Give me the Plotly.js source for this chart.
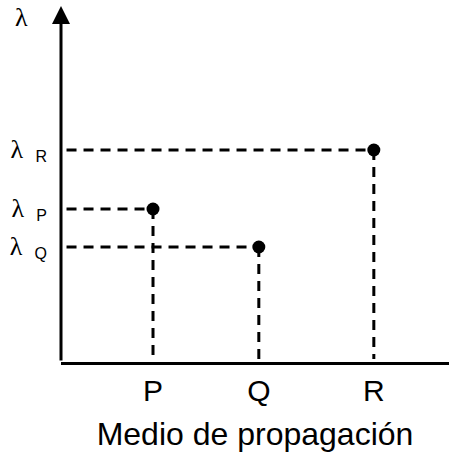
<!DOCTYPE html>
<html><head><meta charset="utf-8">
<script src="https://cdn.plot.ly/plotly-3.0.1.min.js"></script>
<style>body{margin:0;background:#fff}#c{width:449px;height:452px}</style>
</head><body><div id="c"></div>
<script>
const media = ["P", "Q", "R"];
const mediumPos = [1.0, 2.15, 3.40];
const lambdaVals = [1.53, 1.15, 2.12];
const lambdaSubs = ["P", "Q", "R"];
const xTitle = "Medio de propagación";
const yTitle = "λ";

const serif = "Liberation Serif, DejaVu Serif, serif";
const lambdaLabels = lambdaSubs.map(s => "<span style=\"font-family:" + serif + ";font-size:26px\">λ</span>&nbsp;&nbsp;<sub><span style=\"font-size:16px\">" + s + "</span></sub>");
const dashStyle = {color: "#000", width: 3, dash: "10px,7px"};
const traces = [];
for (let i = 0; i < media.length; i++) {
  traces.push({x: [0.06, mediumPos[i]], y: [lambdaVals[i], lambdaVals[i]], mode: "lines", line: dashStyle, hoverinfo: "skip"});
  traces.push({x: [mediumPos[i], mediumPos[i]], y: [lambdaVals[i], 0.03], mode: "lines", line: dashStyle, hoverinfo: "skip"});
}
traces.push({x: mediumPos, y: lambdaVals, mode: "markers", marker: {color: "#000", size: 13}, hoverinfo: "skip"});

const fam = "Liberation Sans, Arial, sans-serif";
const layout = {
  width: 449, height: 452,
  margin: {l: 61, r: 0, t: 0, b: 90},
  showlegend: false,
  paper_bgcolor: "#fff", plot_bgcolor: "#fff",
  xaxis: {range: [0, 4.217], showgrid: false, zeroline: false, showline: true, linewidth: 3, linecolor: "#000",
    tickvals: mediumPos, ticktext: media, ticks: "", tickfont: {family: fam, size: 30, color: "#000"}, ticklabelstandoff: 0,
    title: {text: xTitle, font: {family: fam, size: 32, color: "#000"}, standoff: 18}},
  yaxis: {range: [0, 3.62], showgrid: false, zeroline: false, showline: false,
    tickvals: lambdaVals, ticktext: lambdaLabels, ticks: "", tickfont: {family: fam, size: 22, color: "#000"}, ticklabelstandoff: 13},
  annotations: [
    {x: 0, y: 3.56, xref: "x", yref: "y", ax: 0, ay: 0, axref: "x", ayref: "y", showarrow: true, arrowhead: 2, arrowsize: 1.2, arrowwidth: 3, arrowcolor: "#000", text: ""},
    {x: (21 - 61) / 388, y: (362 - 18) / 362, xref: "paper", yref: "paper", xanchor: "center", yanchor: "middle", text: yTitle, showarrow: false, font: {family: serif, size: 26, color: "#000"}}
  ]
};
Plotly.newPlot("c", traces, layout, {staticPlot: true});
</script></body></html>
